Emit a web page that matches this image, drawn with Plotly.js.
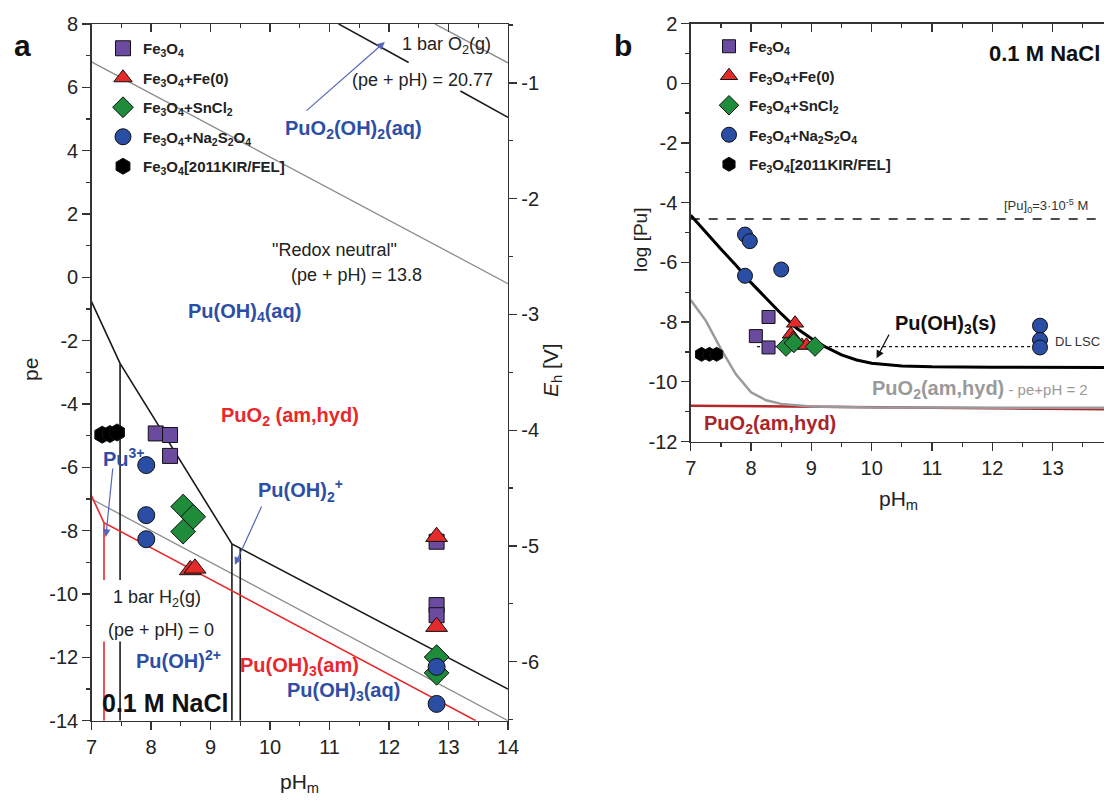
<!DOCTYPE html>
<html><head><meta charset="utf-8">
<script src="https://cdn.plot.ly/plotly-3.0.1.min.js"></script>
<style>html,body{margin:0;padding:0;overflow:hidden;background:#fff}#chart{width:1113px;height:800px}</style>
</head><body><div id="chart"></div>
<script>
// ---------- DATA ----------
// Series (legend labels)
const seriesNames = [
  '<b>Fe<sub>3</sub>O<sub>4</sub></b>',
  '<b>Fe<sub>3</sub>O<sub>4</sub>+Fe(0)</b>',
  '<b>Fe<sub>3</sub>O<sub>4</sub>+SnCl<sub>2</sub></b>',
  '<b>Fe<sub>3</sub>O<sub>4</sub>+Na<sub>2</sub>S<sub>2</sub>O<sub>4</sub></b>',
  '<b>Fe<sub>3</sub>O<sub>4</sub>[2011KIR/FEL]</b>'
];
// Panel a: pe vs pH
const a_fe3o4_pH = [8.08, 8.32, 8.32, 12.80, 12.80, 12.80];
const a_fe3o4_pe = [-4.93, -4.98, -5.64, -8.35, -10.35, -10.67];
const a_fe0_pH = [8.66, 8.74, 12.80, 12.80];
const a_fe0_pe = [-9.24, -9.19, -8.19, -11.03];
const a_sncl2_pH = [8.54, 8.71, 8.54, 12.80, 12.80];
const a_sncl2_pe = [-7.24, -7.56, -8.03, -11.99, -12.49];
const a_dith_pH = [7.92, 7.92, 7.92, 12.80, 12.80];
const a_dith_pe = [-5.93, -7.51, -8.27, -12.30, -13.47];
const a_kir_pH = [7.18, 7.31, 7.43];
const a_kir_pe = [-4.97, -4.95, -4.90];

// Panel a boundary lines
const a_o2_pH = [12.77, 14.0];            const a_o2_pe = [8.0, 6.77];
const a_neutral_pH = [7.0, 14.0];         const a_neutral_pe = [6.8, -0.2];
const a_h2_pH = [7.0, 14.0];              const a_h2_pe = [-7.0, -14.0];
const a_pu6_pH = [11.15, 12.33, null, 13.2, 14.0];
const a_pu6_pe = [8.0, 6.78, null, 5.88, 5.05];
const a_pu4_pH = [7.0, 7.48, 9.36, 14.0];
const a_pu4_pe = [-0.77, -2.72, -8.42, -13.0];
const a_vert_pH = [7.48, 7.48, null, 7.48, 7.48, null, 9.36, 9.36, null, 9.50, 9.50];
const a_vert_pe = [-2.72, -9.56, null, -11.5, -14.0, null, -8.42, -14.0, null, -8.57, -14.0];
const a_red_pH = [7.0, 7.21, 13.46];
const a_red_pe = [-6.9, -7.75, -14.0];
const a_redv_pH = [7.21, 7.21, null, 7.21, 7.21];
const a_redv_pe = [-7.75, -9.56, null, -11.5, -14.0];

// Panel b: log[Pu] vs pH
const b_fe3o4_pH = [8.29, 8.08, 8.29];
const b_fe3o4_log = [-7.83, -8.47, -8.85];
const b_fe0_pH = [8.73, 8.66, 8.70, 8.84, 8.92];
const b_fe0_log = [-8.04, -8.41, -8.55, -8.78, -8.78];
const b_sncl2_pH = [8.58, 8.71, 9.06];
const b_sncl2_log = [-8.82, -8.70, -8.82];
const b_dith_pH = [7.90, 7.98, 7.90, 8.50, 12.79, 12.79, 12.79];
const b_dith_log = [-5.07, -5.29, -6.45, -6.24, -8.12, -8.60, -8.85];
const b_kir_pH = [7.18, 7.31, 7.43];
const b_kir_log = [-9.08, -9.08, -9.08];

const b_puOH3_pH = [7.0, 7.25, 7.5, 7.75, 8.0, 8.25, 8.5, 8.75, 9.0, 9.25, 9.5, 9.75, 10.0, 10.5, 11.0, 12.0, 14.0];
const b_puOH3_log = [-4.42, -5.0, -5.55, -6.1, -6.68, -7.2, -7.72, -8.2, -8.55, -8.85, -9.1, -9.27, -9.38, -9.47, -9.5, -9.51, -9.52];
const b_puO2pe2_pH = [7.0, 7.25, 7.5, 7.75, 8.0, 8.25, 8.5, 9.0, 10.0, 14.0];
const b_puO2pe2_log = [-7.26, -7.95, -8.9, -9.75, -10.35, -10.62, -10.74, -10.83, -10.86, -10.87];
const b_puO2_pH = [7.0, 14.0];
const b_puO2_log = [-10.8, -10.92];
const b_pu0_pH = [7.0, 14.0];
const b_pu0_log = [-4.55, -4.55];
const b_dl_pH = [8.1, 12.9];
const b_dl_log = [-8.82, -8.82];

// Tick labels
const a_xticks = [7, 8, 9, 10, 11, 12, 13, 14];
const a_xtext = ['7', '8', '9', '10', '11', '12', '13', '14'];
const a_yticks = [8, 6, 4, 2, 0, -2, -4, -6, -8, -10, -12, -14];
const a_ytext = ['8', '6', '4', '2', '0', '-2', '-4', '-6', '-8', '-10', '-12', '-14'];
const a_ehticks = [-1, -2, -3, -4, -5, -6];
const a_ehtext = ['-1', '-2', '-3', '-4', '-5', '-6'];
const b_xticks = [7, 8, 9, 10, 11, 12, 13];
const b_xtext = ['7', '8', '9', '10', '11', '12', '13'];
const b_yticks = [2, 0, -2, -4, -6, -8, -10, -12];
const b_ytext = ['2', '0', '-2', '-4', '-6', '-8', '-10', '-12'];

// ---------- STYLE ----------
const FONT = 'Liberation Sans, Arial, Helvetica, sans-serif';
const W = 1113, H = 800;
const fx = p => p / W, fy = p => 1 - p / H;
const symbols = ['square', 'triangle-up', 'diamond', 'circle', 'hexagon'];
const colors = ['#6a4b9f', '#e52a2a', '#1f8c3c', '#2a4ea3', '#000000'];
const sizesA = [15, 19, 19, 17, 17];
const sizesB = [13, 15, 15, 15, 14];
const BLUE = '#2e4ea6', RED = '#e8282b', DRED = '#a8262a', GRAY = '#8c8c8c';

const traces = [];
function line(x, y, xa, ya, color, width, dash) {
  traces.push({x: x, y: y, xaxis: xa, yaxis: ya, mode: 'lines', showlegend: false, hoverinfo: 'skip',
    line: {color: color, width: width, dash: dash || 'solid'}});
}
// panel a lines
line(a_o2_pH, a_o2_pe, 'x', 'y', GRAY, 1.3);
line(a_neutral_pH, a_neutral_pe, 'x', 'y', GRAY, 1.3);
line(a_h2_pH, a_h2_pe, 'x', 'y', GRAY, 1.3);
line(a_pu6_pH, a_pu6_pe, 'x', 'y', '#1a1a1a', 1.6);
line(a_pu4_pH, a_pu4_pe, 'x', 'y', '#1a1a1a', 1.6);
line(a_vert_pH, a_vert_pe, 'x', 'y', '#1a1a1a', 1.6);
line(a_red_pH, a_red_pe, 'x', 'y', RED, 1.6);
line(a_redv_pH, a_redv_pe, 'x', 'y', RED, 1.6);
// panel b lines
line(b_pu0_pH, b_pu0_log, 'x2', 'y3', '#111', 1.6, 'dash');
line(b_dl_pH, b_dl_log, 'x2', 'y3', '#111', 1.3, 'dot');
line(b_puO2_pH, b_puO2_log, 'x2', 'y3', '#b3262a', 2.5);
line(b_puO2pe2_pH, b_puO2pe2_log, 'x2', 'y3', '#9a9a9a', 2.5);
line(b_puOH3_pH, b_puOH3_log, 'x2', 'y3', '#000', 3);

const aX = [a_fe3o4_pH, a_fe0_pH, a_sncl2_pH, a_dith_pH, a_kir_pH];
const aY = [a_fe3o4_pe, a_fe0_pe, a_sncl2_pe, a_dith_pe, a_kir_pe];
const bX = [b_fe3o4_pH, b_fe0_pH, b_sncl2_pH, b_dith_pH, b_kir_pH];
const bY = [b_fe3o4_log, b_fe0_log, b_sncl2_log, b_dith_log, b_kir_log];
for (let i = 0; i < 5; i++) {
  traces.push({x: aX[i], y: aY[i], xaxis: 'x', yaxis: 'y', mode: 'markers', name: seriesNames[i],
    legend: 'legend', legendgroup: 'a' + i,
    marker: {symbol: symbols[i], size: sizesA[i], color: colors[i], line: {color: '#111', width: 1}}});
}
for (let i = 0; i < 5; i++) {
  traces.push({x: bX[i], y: bY[i], xaxis: 'x2', yaxis: 'y3', mode: 'markers', name: seriesNames[i],
    legend: 'legend2', legendgroup: 'b' + i,
    marker: {symbol: symbols[i], size: sizesB[i], color: colors[i], line: {color: '#111', width: 1}}});
}
// empty traces so mirror axes exist
traces.push({x: [], y: [], xaxis: 'x3', yaxis: 'y', showlegend: false});
traces.push({x: [], y: [], xaxis: 'x', yaxis: 'y2', showlegend: false});
traces.push({x: [], y: [], xaxis: 'x4', yaxis: 'y3', showlegend: false});
traces.push({x: [], y: [], xaxis: 'x2', yaxis: 'y4', showlegend: false});

const tickFont = {family: FONT, size: 20, color: '#222'};
function ax(o) {
  return Object.assign({showline: true, linecolor: '#333', linewidth: 1.3, ticks: 'outside', ticklen: 8,
    tickwidth: 1.3, tickcolor: '#333', showgrid: false, zeroline: false, fixedrange: true, tickfont: tickFont,
    tickmode: 'array'}, o);
}
const domAx = [fx(91.5), fx(508)];
const domAy = [fy(720.7), fy(23.9)];
const domBx = [fx(690.7), 1];
const domBy = [fy(441.5), fy(23.5)];

const layout = {
  width: W, height: H, margin: {l: 0, r: 0, t: 0, b: 0}, paper_bgcolor: '#fff', plot_bgcolor: 'rgba(0,0,0,0)',
  font: {family: FONT, color: '#222'},
  xaxis: ax({domain: domAx, range: [7, 14], anchor: 'y', tickvals: a_xticks, ticktext: a_xtext,
    minor: {tickmode: 'linear', tick0: 0, dtick: 0.5, ticks: 'outside', ticklen: 4, tickcolor: '#333'}}),
  yaxis: ax({domain: domAy, range: [-14, 8], anchor: 'x', tickvals: a_yticks, ticktext: a_ytext,
    minor: {tickmode: 'linear', tick0: 0, dtick: 1, ticks: 'outside', ticklen: 4, tickcolor: '#333'}}),
  yaxis2: ax({overlaying: 'y', anchor: 'x', side: 'right', range: [-6.51, -0.49], tickvals: a_ehticks, ticktext: a_ehtext,
    minor: {tickmode: 'linear', tick0: 0, dtick: 0.5, ticks: 'outside', ticklen: 4, tickcolor: '#333'}}),
  xaxis3: ax({overlaying: 'x', anchor: 'y', side: 'top', range: [7, 14], ticks: 'inside', showticklabels: false,
    tickvals: a_xticks, minor: {tickmode: 'linear', tick0: 0, dtick: 0.5, ticks: 'inside', ticklen: 4, tickcolor: '#333'}}),
  xaxis2: ax({domain: domBx, range: [7, 14], anchor: 'y3', tickvals: b_xticks, ticktext: b_xtext,
    minor: {tickmode: 'linear', tick0: 0, dtick: 0.5, ticks: 'outside', ticklen: 4, tickcolor: '#333'}}),
  yaxis3: ax({domain: domBy, range: [-12, 2], anchor: 'x2', tickvals: b_yticks, ticktext: b_ytext,
    minor: {tickmode: 'linear', tick0: 0, dtick: 1, ticks: 'outside', ticklen: 4, tickcolor: '#333'}}),
  xaxis4: ax({overlaying: 'x2', anchor: 'y3', side: 'top', range: [7, 14], ticks: 'inside', showticklabels: false,
    tickvals: b_xticks, minor: {tickmode: 'linear', tick0: 0, dtick: 0.5, ticks: 'inside', ticklen: 4, tickcolor: '#333'}}),
  yaxis4: ax({overlaying: 'y3', anchor: 'x2', side: 'right', range: [-12, 2], ticks: 'inside', showticklabels: false,
    tickvals: b_yticks, minor: {tickmode: 'linear', tick0: 0, dtick: 1, ticks: 'inside', ticklen: 4, tickcolor: '#333'}}),
  legend: {x: fx(103), y: fy(32), xanchor: 'left', yanchor: 'top', bgcolor: 'rgba(0,0,0,0)',
    font: {family: FONT, size: 15, color: '#222'}, tracegroupgap: 7, itemsizing: 'trace'},
  legend2: {x: fx(709), y: fy(30), xanchor: 'left', yanchor: 'top', bgcolor: 'rgba(0,0,0,0)',
    font: {family: FONT, size: 15, color: '#222'}, tracegroupgap: 7, itemsizing: 'trace'},
  annotations: []
};

const ann = layout.annotations;
function txt(text, x, y, xr, yr, size, color, extra) {
  ann.push(Object.assign({text: text, x: x, y: y, xref: xr, yref: yr, showarrow: false,
    font: {family: FONT, size: size, color: color}, xanchor: 'center', yanchor: 'middle'}, extra || {}));
}
function arrow(hx, hy, tx, ty, xr, yr, color) {
  ann.push({text: '', x: hx, y: hy, ax: tx, ay: ty, xref: xr, yref: yr, axref: xr, ayref: yr,
    showarrow: true, arrowhead: 2, arrowsize: 1.3, arrowwidth: 1.2, arrowcolor: color});
}
// panel labels
txt('<b>a</b>', fx(22), fy(45), 'paper', 'paper', 30, '#111');
txt('<b>b</b>', fx(623), fy(45), 'paper', 'paper', 30, '#111');
// axis titles
txt('pe', fx(30), fy(370), 'paper', 'paper', 21, '#222', {textangle: -90});
txt('pH<sub>m</sub>', fx(299), fy(783), 'paper', 'paper', 21, '#222');
txt('<i>E</i><sub>h</sub> [V]', fx(552), fy(370), 'paper', 'paper', 21, '#222', {textangle: -90});
txt('log [Pu]', fx(640), fy(240), 'paper', 'paper', 19, '#222', {textangle: -90});
txt('pH<sub>m</sub>', fx(898), fy(500), 'paper', 'paper', 21, '#222');
// panel a texts
txt('1 bar O<sub>2</sub>(g)', 12.97, 7.33, 'x', 'y', 18, '#222');
txt('(pe + pH) = 20.77', 12.57, 6.23, 'x', 'y', 18, '#222');
txt('<b>PuO<sub>2</sub>(OH)<sub>2</sub>(aq)</b>', 11.4, 4.65, 'x', 'y', 20, BLUE);
txt('"Redox neutral"', 11.09, 0.86, 'x', 'y', 18, '#222');
txt('(pe + pH) = 13.8', 11.46, 0.07, 'x', 'y', 18, '#222');
txt('<b>Pu(OH)<sub>4</sub>(aq)</b>', 9.57, -1.1, 'x', 'y', 20, BLUE);
txt('<b>PuO<sub>2</sub> (am,hyd)</b>', 10.34, -4.41, 'x', 'y', 20, RED);
txt('<b>Pu<sup>3+</sup></b>', 7.55, -5.68, 'x', 'y', 20, BLUE);
txt('<b>Pu(OH)<sub>2</sub><sup>+</sup></b>', 10.52, -6.72, 'x', 'y', 20, BLUE);
txt('1 bar H<sub>2</sub>(g)', 8.1, -10.13, 'x', 'y', 18, '#222');
txt('(pe + pH) = 0', 8.17, -11.13, 'x', 'y', 18, '#222');
txt('<b>Pu(OH)<sup>2+</sup></b>', 8.47, -12.08, 'x', 'y', 20, BLUE);
txt('<b>Pu(OH)<sub>3</sub>(am)</b>', 10.5, -12.28, 'x', 'y', 20, RED);
txt('<b>Pu(OH)<sub>3</sub>(aq)</b>', 11.23, -13.09, 'x', 'y', 20, BLUE);
txt('<b>0.1 M NaCl</b>', 8.24, -13.44, 'x', 'y', 25, '#111');
arrow(11.93, 7.43, 10.59, 5.22, 'x', 'y', '#5566bb');
arrow(7.24, -8.2, 7.36, -5.99, 'x', 'y', '#5566bb');
arrow(9.41, -9.08, 9.87, -7.19, 'x', 'y', '#5566bb');
// panel b texts
txt('<b>0.1 M NaCl</b>', 12.86, 0.99, 'x2', 'y3', 22, '#111');
txt('[Pu]<sub>0</sub>=3·10<sup>-5</sup> M', 12.89, -4.1, 'x2', 'y3', 13, '#333');
txt('DL LSC', 13.41, -8.65, 'x2', 'y3', 13, '#333');
txt('<b>Pu(OH)<sub>3</sub>(s)</b>', 11.23, -8.08, 'x2', 'y3', 20, '#111');
txt('<b>PuO<sub>2</sub>(am,hyd)</b><span style="font-size:15px"> - pe+pH = 2</span>', 11.8, -10.26, 'x2', 'y3', 20, '#9a9a9a');
txt('<b>PuO<sub>2</sub>(am,hyd)</b>', 8.32, -11.43, 'x2', 'y3', 20, DRED);
arrow(10.08, -9.21, 10.3, -8.37, 'x2', 'y3', '#111');

Plotly.newPlot('chart', traces, layout, {staticPlot: true, displayModeBar: false});
</script></body></html>
